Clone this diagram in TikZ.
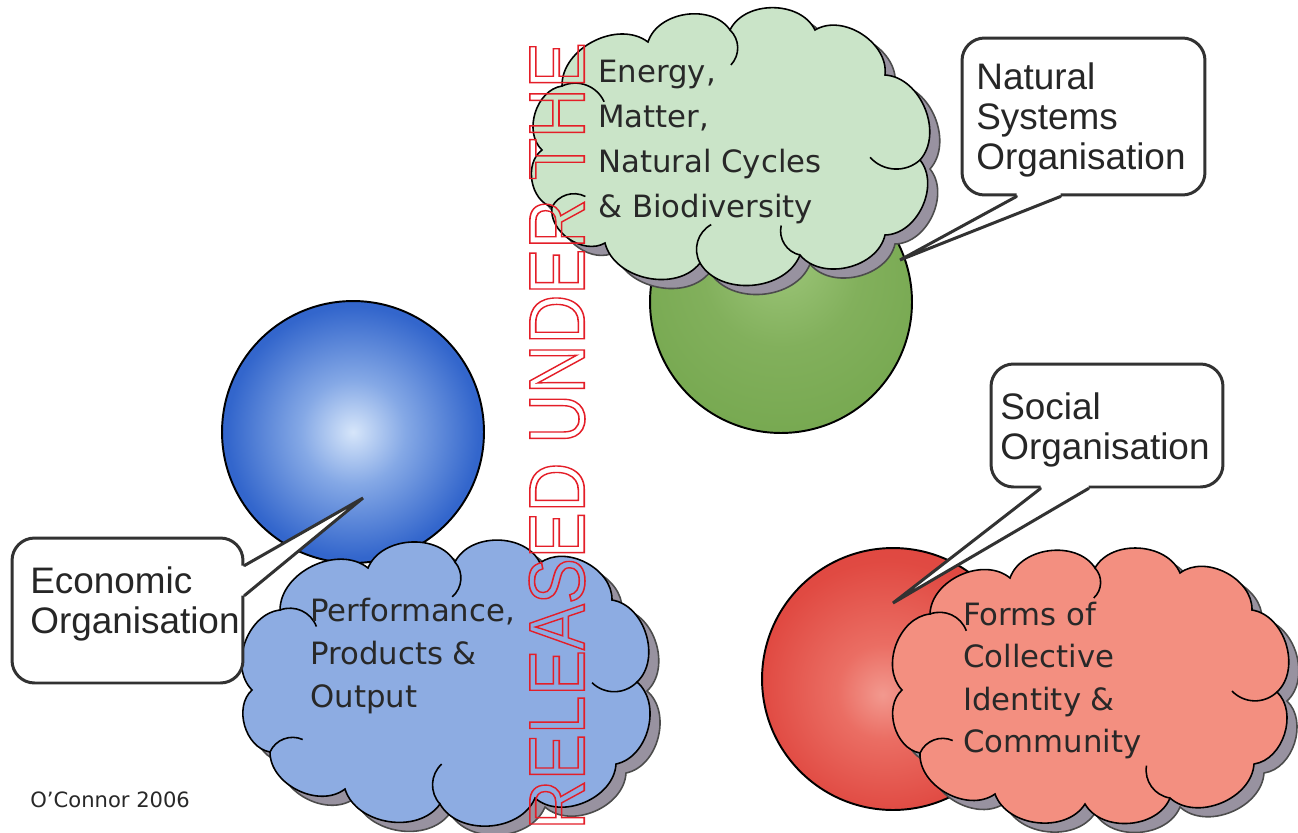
\documentclass[tikz,border=0pt]{standalone}
\usepackage{fontspec}
\setmainfont{Liberation Sans}
\newfontfamily\comicfont{DejaVu Sans}
\usetikzlibrary{calc}
\definecolor{cgreen}{RGB}{202,228,200}
\definecolor{cblue}{RGB}{141,172,226}
\definecolor{cred}{RGB}{243,143,128}
\definecolor{cshadow}{RGB}{152,146,160}
\definecolor{cbord}{RGB}{50,50,50}
\definecolor{wmred}{RGB}{228,30,40}
\definecolor{ctext}{RGB}{40,40,40}
\pgfdeclareradialshading{greensph}{\pgfpoint{0bp}{9bp}}{rgb(0bp)=(0.62,0.78,0.48); rgb(15bp)=(0.51,0.69,0.36); rgb(35bp)=(0.45,0.65,0.30); rgb(50bp)=(0.40,0.60,0.26)}
\pgfdeclareradialshading{bluesph}{\pgfpoint{0bp}{0bp}}{rgb(0bp)=(0.84,0.90,0.98); rgb(10bp)=(0.52,0.66,0.90); rgb(24bp)=(0.20,0.40,0.80); rgb(50bp)=(0.13,0.30,0.72)}
\pgfdeclareradialshading{redsph}{\pgfpoint{-2bp}{-3bp}}{rgb(0bp)=(0.95,0.60,0.56); rgb(9bp)=(0.92,0.43,0.39); rgb(24bp)=(0.88,0.29,0.26); rgb(50bp)=(0.85,0.22,0.21)}
\newcommand\outlinetext[1]{\special{pdf:literal direct 1 Tr 0.9 w}#1\special{pdf:literal direct 0 Tr}}
\begin{document}
\begin{tikzpicture}[x=0.02cm,y=-0.02cm,
  puff/.style={bend left=64},
  inarc/.style={bend left=45},
  sphere/.style={circle, minimum size=5.24cm, inner sep=0pt, draw=black, line width=1.1pt, shade},
  cloudline/.style={draw=black, line width=0.9pt, line join=miter},
  cloudshadow/.style={fill=cshadow, draw=black!70, line width=0.9pt, shift={(10,9)}},
  cloudtxt/.style={font=\comicfont\fontsize{17.5}{25.6}\selectfont, align=left, inner sep=0pt, text=ctext},
  calltxt/.style={font=\fontsize{21}{23}\selectfont, align=left, inner sep=0pt, text=black!85},
  callbox/.style={rectangle, rounded corners=0.45cm, draw=cbord, line width=1.7pt, fill=white, inner sep=0pt},
  tail/.style={draw=cbord, line width=1.7pt, line cap=round, line join=miter},
  greenpath/.style={insert path={(542,150) to[puff] (562,86) to[puff] (648,42) to[puff] (730,30) to[puff] (815,30) to[puff] (885,75) to[puff] (920,160) to[puff] (885,235) to[puff] (800,255) to[puff] (700,263) to[puff] (605,243) to[puff] (552,207) to[puff] (542,150) -- cycle}},
  bluepath/.style={insert path={(252,690) to[puff] (280,610) to[puff] (368,568) to[puff] (455,562) to[puff] (540,563) to[puff] (612,600) to[puff] (637,682) to[puff] (616,764) to[puff] (535,798) to[puff] (440,804) to[puff] (345,789) to[puff] (270,752) to[puff] (252,690) -- cycle}},
  redpath/.style={insert path={(902,690) to[puff] (930,614) to[puff] (1010,578) to[puff] (1095,568) to[puff] (1180,573) to[puff] (1252,610) to[puff] (1277,692) to[puff] (1254,764) to[puff] (1170,798) to[puff] (1085,804) to[puff] (995,794) to[puff] (920,753) to[puff] (902,690) -- cycle}}]
\useasboundingbox (0,0) rectangle (1298,832);
\fill[white] (0,0) rectangle (1298,832);

% green group
\node[sphere, shading=greensph] (gsph) at (781,302) {};
\coordinate (gc) at (733,150);
\path[cloudshadow, greenpath];
\path[cloudline, fill=cgreen, greenpath];
\draw[cloudline] (562,86) to[inarc] ($(562,86)!0.9cm!(gc)$);
\draw[cloudline] (730,30) to[inarc] ($(730,30)!0.7cm!(gc)$);
\draw[cloudline] (920,160) to[inarc] ($(920,160)!1.0cm!(gc)$);
\draw[cloudline] (800,255) to[inarc] ($(800,255)!0.7cm!(gc)$);
\draw[cloudline] (700,263) to[inarc] ($(700,263)!0.8cm!(gc)$);
\draw[cloudline] (552,207) to[inarc] ($(552,207)!0.7cm!(gc)$);
\node[cloudtxt, anchor=north west] (gtext) at (598,60) {Energy,\\Matter,\\Natural Cycles\\\& Biodiversity};

% blue group
\node[sphere, shading=bluesph] (bsph) at (353,432) {};
\coordinate (bc) at (445,685);
\path[cloudshadow, bluepath];
\path[cloudline, fill=cblue, bluepath];
\draw[cloudline] (280,610) to[inarc] ($(280,610)!0.8cm!(bc)$);
\draw[cloudline] (455,562) to[inarc] ($(455,562)!0.7cm!(bc)$);
\draw[cloudline] (637,682) to[inarc] ($(637,682)!0.9cm!(bc)$);
\draw[cloudline] (440,804) to[inarc] ($(440,804)!0.8cm!(bc)$);
\draw[cloudline] (270,752) to[inarc] ($(270,752)!0.7cm!(bc)$);
\node[cloudtxt, anchor=north west, font=\comicfont\fontsize{17.5}{24.5}\selectfont] (btext) at (310,598) {Performance,\\Products \&\\Output};

% red group
\node[sphere, shading=redsph] (rsph) at (893,679) {};
\coordinate (rc) at (1090,688);
\path[cloudshadow, redpath];
\path[cloudline, fill=cred, redpath];
\draw[cloudline] (930,614) to[inarc] ($(930,614)!0.8cm!(rc)$);
\draw[cloudline] (1095,568) to[inarc] ($(1095,568)!0.6cm!(rc)$);
\draw[cloudline] (1277,692) to[inarc] ($(1277,692)!0.9cm!(rc)$);
\draw[cloudline] (1170,798) to[inarc] ($(1170,798)!0.8cm!(rc)$);
\draw[cloudline] (920,753) to[inarc] ($(920,753)!0.7cm!(rc)$);
\node[cloudtxt, anchor=north west, font=\comicfont\fontsize{17.5}{24}\selectfont] (rtext) at (963,602) {Forms of\\Collective\\Identity \&\\Community};

% Natural systems callout
\node[callbox, minimum width=4.86cm, minimum height=3.14cm] (nbox) at (1083.5,116.5) {};
\coordinate (ntip) at (900,260);
\coordinate (nA) at ($(nbox.south west)+(56,0)$);
\coordinate (nB) at ($(nbox.south west)+(100,0)$);
\fill[white] ($(nA)+(0,-4)$) -- (nA) -- (ntip) -- (nB) -- ($(nB)+(0,-4)$) -- cycle;
\draw[tail] (nA) -- (ntip) -- (nB);
\node[calltxt, anchor=north west] (ntext) at (976,62) {Natural\\Systems\\Organisation};

% Economic callout
\node[callbox, minimum width=4.62cm, minimum height=2.9cm] (ebox) at (127.5,610.5) {};
\coordinate (etip) at (363,498);
\coordinate (eA) at ($(ebox.north east)+(0,29)$);
\coordinate (eB) at ($(ebox.north east)+(0,59)$);
\fill[white] ($(eA)+(-4,0)$) -- (eA) -- (etip) -- (eB) -- ($(eB)+(-4,0)$) -- cycle;
\draw[tail] (eA) -- (etip) -- (eB);
\node[calltxt, anchor=north west] (etext) at (30,566) {Economic\\Organisation};

% Social callout
\node[callbox, minimum width=4.64cm, minimum height=2.46cm] (sbox) at (1107,425.5) {};
\coordinate (stip) at (893,603);
\coordinate (sA) at ($(sbox.south west)+(51,0)$);
\coordinate (sB) at ($(sbox.south west)+(99,0)$);
\fill[white] ($(sA)+(0,-4)$) -- (sA) -- (stip) -- (sB) -- ($(sB)+(0,-4)$) -- cycle;
\draw[tail] (sA) -- (stip) -- (sB);
\node[calltxt, anchor=north west] (stext) at (1000,392) {Social\\Organisation};

% credit
\node[font=\comicfont\fontsize{12}{14}\selectfont, anchor=west, inner sep=0pt, text=ctext] (credit) at (30,800) {O’Connor 2006};

% watermark
\node[rotate=90, inner sep=0pt, text=wmred, font=\fontsize{45}{45}\selectfont] (wm) at (557,436) {\scalebox{0.87}[1]{\outlinetext{RELEASED UNDER THE}}};
\end{tikzpicture}
\end{document}
